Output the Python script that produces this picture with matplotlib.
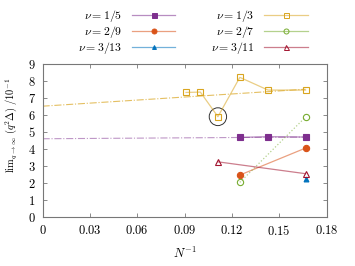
import matplotlib
matplotlib.use("Agg")
import matplotlib.pyplot as plt
from matplotlib.ticker import FuncFormatter
from matplotlib.patches import Ellipse

plt.rcParams['mathtext.fontset'] = 'cm'
plt.rcParams['font.family'] = ['DejaVu Serif']

# data
x_13 = [1/11, 1/10, 1/9, 1/8, 1/7, 1/6]
y_13 = [7.33, 7.35, 5.9, 8.22, 7.47, 7.47]
x_15 = [1/8, 1/7, 1/6]
y_15 = [4.68, 4.72, 4.70]
x_29 = [1/8, 1/6]
y_29 = [2.46, 4.05]
x_27 = [1/8, 1/6]
y_27 = [2.03, 5.88]
x_311 = [1/9, 1/6]
y_311 = [3.24, 2.54]
x_313 = [1/6]
y_313 = [2.2]
extrap_x = [0, 1/6]
extrap_13 = [6.52, 7.52]
extrap_15 = [4.60, 4.70]

c_purple = '#7e2f8e'
c_orange = '#d95319'
c_blue = '#0072bd'
c_gold = '#d9a520'
c_green = '#77ac30'
c_red = '#a2142f'

fig = plt.figure(figsize=(3.55, 2.66), dpi=100)
ax = fig.add_axes([0.120, 0.185, 0.800, 0.574])

lw = 0.9
la = 0.55
ax.plot(extrap_x, extrap_13, ls='-.', color=c_gold, lw=0.8, alpha=0.7)
ax.plot(extrap_x, extrap_15, ls='-.', color=c_purple, lw=0.8, alpha=0.5)

def series(x, y, c, marker, filled, label, ms, ls='-'):
    ax.plot(x, y, ls=ls, color=c, lw=lw, alpha=la)
    ax.plot(x, y, ls='none', marker=marker, ms=ms, mec=c,
            mfc=c if filled else 'none', mew=0.8)
    # legend proxy
    ax.plot([], [], ls='-', color=matplotlib.colors.to_rgba(c, la), lw=lw,
            marker=marker, ms=ms * 0.8, mec=c, mfc=c if filled else 'none', mew=0.7,
            label=label)

series(x_15, y_15, c_purple, 's', True, r'$\nu = 1/5$', 4.5)
series(x_29, y_29, c_orange, 'o', True, r'$\nu = 2/9$', 4.5)
series(x_313, y_313, c_blue, '^', True, r'$\nu = 3/13$', 3.5)
series(x_13, y_13, c_gold, 's', False, r'$\nu = 1/3$', 4.5)
series(x_27, y_27, c_green, 'o', False, r'$\nu = 2/7$', 4.5, ls=':')
series(x_311, y_311, c_red, '^', False, r'$\nu = 3/11$', 4.5)

ax.add_patch(Ellipse((1/9, 5.9), width=0.011, height=1.05, fill=False,
                     ec='#333333', lw=0.7))

ax.set_xlim(0, 0.18)
ax.set_ylim(0, 9)
ax.set_xticks([0, 0.03, 0.06, 0.09, 0.12, 0.15, 0.18])
ax.set_yticks(range(0, 10))
ax.xaxis.set_major_formatter(FuncFormatter(lambda v, p: '$0$' if v == 0 else '$%.2f$' % v))
ax.yaxis.set_major_formatter(FuncFormatter(lambda v, p: '$%d$' % v))
ax.tick_params(direction='in', top=True, right=True, labelsize=9, length=3,
               color='#777777', width=0.6, pad=5)
for s in ax.spines.values():
    s.set_color('#777777')
    s.set_linewidth(0.8)

ax.set_xlabel(r'$N^{-1}$', fontsize=9, labelpad=6)
ax.set_ylabel(r'$\mathrm{lim}_{q\to\infty}\ (q^2\Delta)\ /10^{-1}$', fontsize=7.5)
ax.yaxis.set_label_coords(-0.082, 0.60)

h, l = ax.get_legend_handles_labels()
fig.legend(h, l, ncol=2, loc='upper left', bbox_to_anchor=(0.19, 1.01),
           frameon=False, markerfirst=False, fontsize=8.5, handlelength=3.7,
           columnspacing=3.0, labelspacing=0.0, handletextpad=0.8)

fig.savefig('out.png', dpi=100)
